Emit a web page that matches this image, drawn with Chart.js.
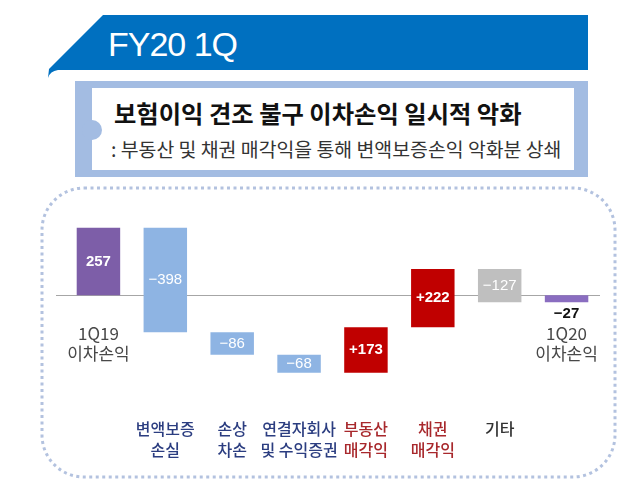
<!DOCTYPE html>
<html>
<head>
<meta charset="utf-8">
<script src="https://cdn.jsdelivr.net/npm/chart.js@4.4.1/dist/chart.umd.min.js"></script>
<style>
    html, body { margin: 0; padding: 0; background: #fff; }
    #wrap { position: relative; width: 640px; height: 492px; overflow: hidden; }
    #banner { position: absolute; left: 0; top: 0; }
    .fy { position: absolute; left: 108px; top: 24px; color: #fff; font: 34px 'Liberation Sans', Arial, sans-serif; letter-spacing: -1px; line-height: 40px; }
    .box { position: absolute; left: 75px; top: 81px; width: 513px; height: 96px; background: #a3bce2; }
    .inner { position: absolute; left: 92px; top: 88px; width: 482px; height: 82px; background: #fff; }
    .notch { position: absolute; left: 82px; top: 120px; width: 20px; height: 20px; border-radius: 50%; background: #a3bce2; }
    .title { position: absolute; left: 114px; top: 97px; font: bold 24.3px 'Noto Sans CJK KR', sans-serif; color: #111; line-height: 32px; white-space: nowrap; }
    .sub { position: absolute; left: 111px; top: 135px; font: 19.4px 'Noto Sans CJK KR', sans-serif; color: #333; line-height: 28px; white-space: nowrap; }
    #chart { position: absolute; left: 0; top: 0; }
</style>
</head>
<body>
<div id="wrap">
    <svg id="banner" width="640" height="90">
        <path d="M103,15 L588,15 L588,70 L58,70 Q50,71 48,78 L49,69 Z" fill="#0070c0"/>
    </svg>
    <div class="fy">FY20 1Q</div>
    <div class="box"></div>
    <div class="inner"></div>
    <div class="notch"></div>
    <div class="title">보험이익 견조 불구 이차손익 일시적 악화</div>
    <div class="sub">: 부동산 및 채권 매각익을 통해 변액보증손익 악화분 상쇄</div>
    <canvas id="chart" width="640" height="492"></canvas>
</div>
<script>
// ─── Data ───
const categories = [
    ['1Q19', '이차손익'], ['변액보증', '손실'], ['손상', '차손'], ['연결자회사', '및 수익증권'],
    ['부동산', '매각익'], ['채권', '매각익'], ['기타'], ['1Q20', '이차손익']
];
const values = [257, -398, -86, -68, 173, 222, -127, -27];
const isTotal = [true, false, false, false, false, false, false, true];

const barColors = ['#7d5ea8', '#8eb4e3', '#8eb4e3', '#8eb4e3', '#c00000', '#c00000', '#bfbfbf', '#8a6dc0'];
const tickColors = ['#444', '#2b3d80', '#2b3d80', '#2b3d80', '#a8282c', '#a8282c', '#333', '#444'];

// running waterfall ranges
let run = 0;
const ranges = values.map((v, i) => {
    if (isTotal[i]) { run = v; return [0, v]; }
    const r = [run, run + v];
    run += v;
    return r;
});

function fmt(v, i) {
    if (i === 0) return String(v);
    return (v > 0 ? '+' : '\u2212') + Math.abs(v);
}

const KR = "'Noto Sans CJK KR', sans-serif";
const NUM = "'Liberation Sans', Arial, sans-serif";

// ─── Decorations: dotted frame, zero line, labels ───
const waterfallDeco = {
    id: 'waterfallDeco',
    beforeDraw(chart) {
        const c = chart.ctx;
        c.save();
        c.strokeStyle = '#b3c2df';
        c.lineWidth = 3;
        c.setLineDash([3, 3.5]);
        c.beginPath();
        c.roundRect(42, 188, 573, 289, 42);
        c.stroke();
        c.restore();
    },
    beforeDatasetsDraw(chart) {
        const c = chart.ctx, y0 = chart.scales.y.getPixelForValue(0);
        c.save();
        c.strokeStyle = '#a6a6a6';
        c.lineWidth = 1;
        c.beginPath();
        c.moveTo(chart.chartArea.left - 9, Math.round(y0) + 0.5);
        c.lineTo(chart.chartArea.right, Math.round(y0) + 0.5);
        c.stroke();
        c.restore();
    },
    afterDatasetsDraw(chart) {
        const c = chart.ctx, xs = chart.scales.x, ys = chart.scales.y;
        const last = values.length - 1;
        c.save();
        c.textAlign = 'center';
        c.textBaseline = 'middle';
        values.forEach((v, i) => {
            const x = xs.getPixelForValue(i);
            const top = ys.getPixelForValue(Math.max(...ranges[i]));
            const bot = ys.getPixelForValue(Math.min(...ranges[i]));
            if (i === last) {
                c.fillStyle = '#111';
                c.font = 'bold 15px ' + NUM;
                c.fillText(fmt(v, i), x, bot + 12);
                return;
            }
            c.fillStyle = '#fff';
            c.font = (i === 0 || v > 0 ? 'bold ' : '') + '15px ' + NUM;
            c.fillText(fmt(v, i), x, (top + bot) / 2);
        });
        // start / end labels under their bars
        c.fillStyle = '#484848';
        c.font = '17px ' + KR;
        [0, last].forEach(i => {
            const x = xs.getPixelForValue(i);
            const y = ys.getPixelForValue(0) + 38;
            c.fillText(categories[i][0], x, y);
            c.fillText(categories[i][1], x, y + 20);
        });
        c.restore();
    }
};

const chart = new Chart(document.getElementById('chart'), {
    type: 'bar',
    data: {
        labels: categories,
        datasets: [{
            data: ranges,
            backgroundColor: barColors,
            borderWidth: 0,
            barPercentage: 0.65,
            categoryPercentage: 1
        }]
    },
    options: {
        responsive: false,
        animation: false,
        layout: { padding: { left: 65, right: 40, top: 227, bottom: 0 } },
        plugins: { legend: { display: false }, tooltip: { enabled: false } },
        scales: {
            x: {
                grid: { display: false, drawTicks: false },
                border: { display: false },
                afterFit: s => { s.height = 118; },
                ticks: {
                    padding: 45,
                    maxRotation: 0,
                    autoSkip: false,
                    color: ctx => tickColors[ctx.index],
                    font: { family: "'Noto Sans CJK KR'", size: 16, weight: 500, lineHeight: 1.3 },
                    callback: (val, i) => (i === 0 || i === categories.length - 1) ? '' : categories[i]
                }
            },
            y: { display: false, min: -300, max: 260 }
        }
    },
    plugins: [waterfallDeco]
});
</script>
</body>
</html>
